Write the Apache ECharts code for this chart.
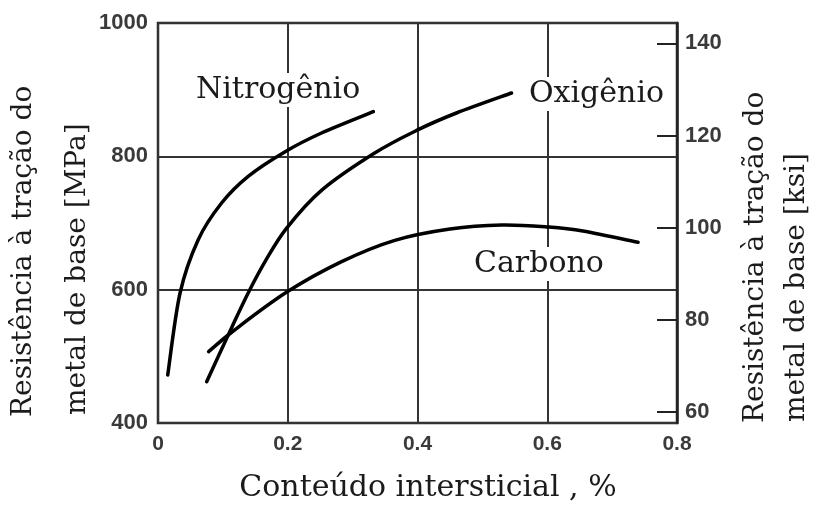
<!DOCTYPE html>
<html><head><meta charset="utf-8">
<script src="https://cdn.jsdelivr.net/npm/echarts@6/dist/echarts.min.js"></script>
<style>html,body{margin:0;padding:0;background:#fff}#c{width:826px;height:509px}</style>
</head><body><div id="c"></div><script>
// Data (x = interstitial content %, y = MPa)
const nitrogenX = [0.015, 0.034, 0.062, 0.098, 0.139, 0.196, 0.252, 0.332];
const nitrogenY = [472, 595, 675, 730, 770, 807, 835, 867];
const oxygenX = [0.075, 0.114, 0.139, 0.165, 0.198, 0.252, 0.334, 0.401, 0.460, 0.545];
const oxygenY = [462, 544, 595, 642, 692, 749, 805, 840, 865, 895];
const carbonX = [0.078, 0.116, 0.198, 0.283, 0.365, 0.450, 0.530, 0.601, 0.655, 0.740];
const carbonY = [507, 538, 596, 642, 674, 691, 697, 694, 688, 671];
const xTicks = [0, 0.2, 0.4, 0.6, 0.8];
const mpaTicks = [400, 600, 800, 1000];
const ksiTicks = [60, 80, 100, 120, 140];
const seriesNames = ['Nitrogênio', 'Oxigênio', 'Carbono'];
const xTitle = 'Conteúdo intersticial , %';
const yTitleLine1 = 'Resistência à tração do';
const yTitleLeftLine2 = 'metal de base [MPa]';
const yTitleRightLine2 = 'metal de base [ksi]';

const pair = (xs, ys) => xs.map((x, i) => [x, ys[i]]);
const chart = echarts.init(document.getElementById('c'));
const serif = "'DejaVu Serif', serif";
const tickFont = "'Liberation Sans', Arial, sans-serif";
const txtColor = '#1b1b1b';
const tickColor = '#3a3a3a';

// Smooth curve through the data points (Catmull-Rom), positioned with the chart's own scales
function curveSeries(name, xs, ys) {
  const data = pair(xs, ys);
  return {
    name, type: 'custom', data, z: 3, silent: true, clip: true,
    renderItem: (params, api) => {
      if (params.dataIndex !== 0) return null;
      const p = data.map(d => api.coord(d));
      let path = 'M' + p[0][0] + ' ' + p[0][1];
      for (let i = 0; i < p.length - 1; i++) {
        const p0 = p[Math.max(i - 1, 0)], p1 = p[i], p2 = p[i + 1], p3 = p[Math.min(i + 2, p.length - 1)];
        const t = 1 / 6;
        const c1 = [p1[0] + (p2[0] - p0[0]) * t, p1[1] + (p2[1] - p0[1]) * t];
        const c2 = [p2[0] - (p3[0] - p1[0]) * t, p2[1] - (p3[1] - p1[1]) * t];
        path += ' C' + c1[0] + ' ' + c1[1] + ' ' + c2[0] + ' ' + c2[1] + ' ' + p2[0] + ' ' + p2[1];
      }
      return { type: 'path', shape: { pathData: path },
        style: { fill: null, stroke: '#000', lineWidth: 3.5, lineCap: 'round', lineJoin: 'round' } };
    }
  };
}

function vText(text, x, y) {
  return { type: 'text', x, y, rotation: Math.PI / 2, z: 20,
    style: { text, fill: txtColor, font: "28px " + serif, textAlign: 'left', textVerticalAlign: 'middle' } };
}
function curveLabel(text, x, y) {
  return { type: 'text', x, y, z: 20,
    style: { text, fill: txtColor, font: "30px " + serif, textAlign: 'left', textVerticalAlign: 'middle',
      backgroundColor: '#fff', padding: [2, 2, 2, 2] } };
}

chart.setOption({
  animation: false,
  backgroundColor: '#fff',
  grid: { left: 158, right: 149, top: 23, bottom: 86, show: true, borderColor: '#222', borderWidth: 2.5, backgroundColor: 'transparent' },
  xAxis: {
    type: 'value', min: xTicks[0], max: xTicks[xTicks.length - 1], interval: 0.2,
    axisLine: { show: false }, axisTick: { show: false },
    splitLine: { show: true, lineStyle: { color: '#333', width: 2 } },
    axisLabel: {
      margin: 11, color: tickColor, fontFamily: tickFont, fontWeight: 'bold', fontSize: 21,
      formatter: v => v === 0 ? '0' : String(+v.toFixed(1))
    }
  },
  yAxis: [
    {
      type: 'value', min: mpaTicks[0], max: mpaTicks[mpaTicks.length - 1], interval: 200, position: 'left',
      axisLine: { show: false }, axisTick: { show: false },
      splitLine: { show: true, lineStyle: { color: '#333', width: 2 } },
      axisLabel: { margin: 10, color: tickColor, fontFamily: tickFont, fontWeight: 'bold', fontSize: 22,
        formatter: v => String(v) }
    },
    {
      type: 'value', min: 57.6, max: 144.4, position: 'right',
      axisLine: { show: true, lineStyle: { color: '#222', width: 2.5 } },
      axisTick: { show: true, inside: true, length: 20, customValues: ksiTicks, lineStyle: { color: '#222', width: 2 } },
      splitLine: { show: false },
      axisLabel: { margin: 8, customValues: ksiTicks, color: tickColor, fontFamily: tickFont, fontWeight: 'bold', fontSize: 22,
        formatter: v => String(v) }
    }
  ],
  series: [
    curveSeries(seriesNames[0], nitrogenX, nitrogenY),
    curveSeries(seriesNames[1], oxygenX, oxygenY),
    curveSeries(seriesNames[2], carbonX, carbonY)
  ],
  graphic: [
    { type: 'text', x: 428, y: 488, z: 20,
      style: { text: xTitle, fill: txtColor, font: "30px " + serif, textAlign: 'center', textVerticalAlign: 'middle' } },
    vText(yTitleLine1, 24, 417),
    vText(yTitleLeftLine2, 78, 415),
    vText(yTitleLine1, 756, 423),
    vText(yTitleRightLine2, 797, 422),
    curveLabel(seriesNames[0], 194, 90),
    curveLabel(seriesNames[1], 527, 94),
    curveLabel(seriesNames[2], 472, 264)
  ]
});
</script></body></html>
